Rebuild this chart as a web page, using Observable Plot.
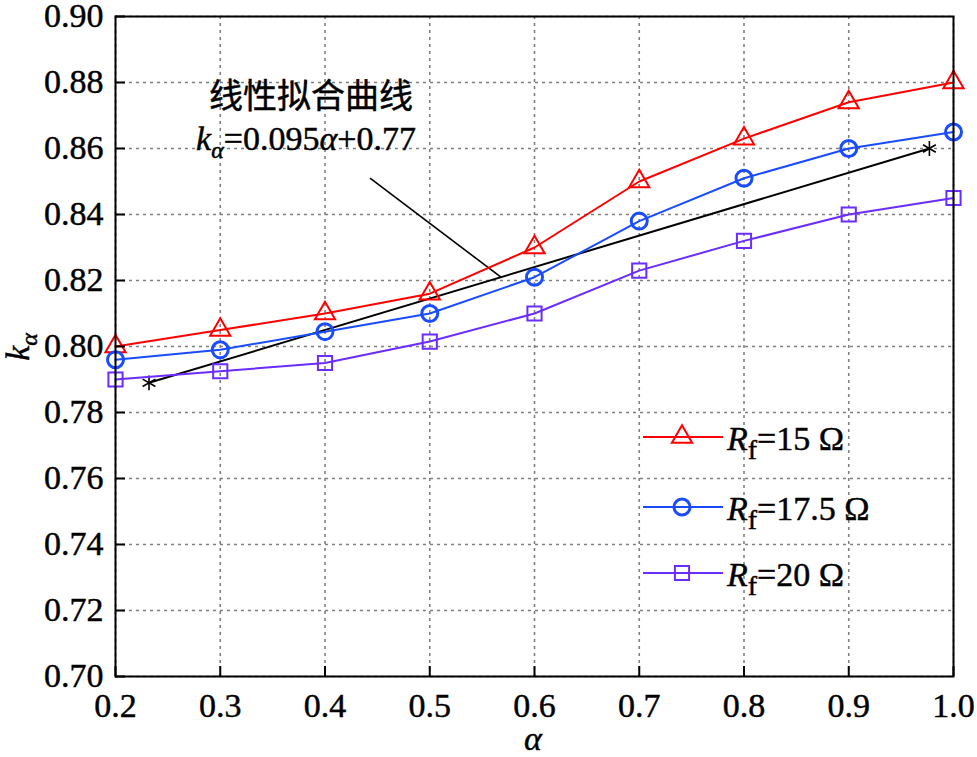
<!DOCTYPE html>
<html><head><meta charset="utf-8">
<script src="https://cdn.jsdelivr.net/npm/d3@7"></script>
<script src="https://cdn.jsdelivr.net/npm/@observablehq/plot@0.6"></script>
<style>
body{margin:0;background:#fff;}
#chart{width:977px;height:757px;}
#chart svg text{stroke:black;stroke-width:0.45px;}
</style></head><body><div id="chart"></div>
<script>
// ---- data ----
const alpha = [0.2, 0.3, 0.4, 0.5, 0.6, 0.7, 0.8, 0.9, 1.0];
const k15   = [0.800, 0.805, 0.810, 0.816, 0.830, 0.850, 0.863, 0.874, 0.880];
const k175  = [0.796, 0.799, 0.8045, 0.810, 0.821, 0.838, 0.851, 0.860, 0.865];
const k20   = [0.790, 0.7925, 0.795, 0.8015, 0.810, 0.823, 0.832, 0.840, 0.845];
const seriesR = ["15", "17.5", "20"];
const fitAlpha = [0.232, 0.977];
const fitK = [0.789, 0.860];
const leaderAlpha = [0.443, 0.568];
const leaderK = [0.851, 0.821];
const xTicks = [0.2, 0.3, 0.4, 0.5, 0.6, 0.7, 0.8, 0.9, 1.0];
const yTicks = [0.70, 0.72, 0.74, 0.76, 0.78, 0.80, 0.82, 0.84, 0.86, 0.88, 0.90];
const annoTitle = "线性拟合曲线";
const annoFormula = ["k", "α", "=0.095", "α", "+0.77"];

// ---- styles ----
const colors = ["#ff0000", "#1a4cff", "#6a2cff"];
const symbols = ["triangle", "circle", "square"];
const radii = [7.5, 8, 8];
const sw = [2, 3, 2];
const series = [k15, k175, k20];

const rows = series.map(ks => alpha.map((a, i) => ({a, k: ks[i]})));
const fitRows = fitAlpha.map((a, i) => ({a, k: fitK[i]}));
const leaderRow = [{x1: leaderAlpha[0], y1: leaderK[0], x2: leaderAlpha[1], y2: leaderK[1]}];

const gridStyle = {stroke: "#808080", strokeOpacity: 1, strokeDasharray: "3,4", strokeWidth: 1.6};
const marks = [
  Plot.gridX(xTicks, gridStyle),
  Plot.gridY(yTicks, gridStyle),
  Plot.link(leaderRow, {x1: "x1", y1: "y1", x2: "x2", y2: "y2", stroke: "black", strokeWidth: 1.6}),
  Plot.line(fitRows, {x: "a", y: "k", stroke: "black", strokeWidth: 2}),
  Plot.dot(fitRows, {x: "a", y: "k", symbol: "asterisk", r: 7, stroke: "black", strokeWidth: 1.6}),
];
rows.forEach((r, i) => {
  marks.push(Plot.line(r, {x: "a", y: "k", stroke: colors[i], strokeWidth: 2}));
  marks.push(Plot.dot(r, {x: "a", y: "k", symbol: symbols[i], r: radii[i], stroke: colors[i], strokeWidth: sw[i], fill: "none"}));
});
marks.push(
  Plot.axisX(xTicks, {tickSize: -10, tickPadding: 26, tickFormat: d3.format(".1f"), label: null, fontSize: 34, stroke: "black", strokeWidth: 2}),
  Plot.axisY(yTicks, {tickSize: -10, tickPadding: 22, tickFormat: d3.format(".2f"), label: null, fontSize: 34, stroke: "black", strokeWidth: 2}),
  Plot.frame({stroke: "black", strokeWidth: 2})
);

const chart = Plot.plot({
  width: 977, height: 757,
  marginLeft: 115, marginRight: 24, marginTop: 16, marginBottom: 81,
  x: {domain: [0.2, 1.0]},
  y: {domain: [0.70, 0.90]},
  style: {fontFamily: "'Liberation Serif', 'Times New Roman', serif", color: "black", background: "white"},
  marks
});
document.getElementById("chart").appendChild(chart);

const svg = d3.select(chart);
const serif = "'Liberation Serif', 'Times New Roman', serif";

// annotation
svg.append("text").attr("x", 311).attr("y", 108).attr("text-anchor", "middle")
  .attr("font-family", "'Noto Sans CJK SC', sans-serif").attr("font-size", 34).attr("fill", "black")
  .text(annoTitle);
const f = svg.append("text").attr("x", 306).attr("y", 150).attr("text-anchor", "middle")
  .attr("font-family", serif).attr("font-size", 34).attr("fill", "black");
f.append("tspan").attr("font-style", "italic").text(annoFormula[0]);
f.append("tspan").attr("font-style", "italic").attr("font-size", 24).attr("dy", 8).text(annoFormula[1]);
f.append("tspan").attr("dy", -8).text(annoFormula[2]);
f.append("tspan").attr("font-style", "italic").text(annoFormula[3]);
f.append("tspan").text(annoFormula[4]);

// axis labels
const yl = svg.append("text").attr("transform", "translate(29,347) rotate(-90)").attr("text-anchor", "middle")
  .attr("font-family", serif).attr("font-size", 34).attr("fill", "black");
yl.append("tspan").attr("font-style", "italic").text("k");
yl.append("tspan").attr("font-style", "italic").attr("font-size", 24).attr("dy", 8).text("α");
svg.append("text").attr("x", 533).attr("y", 750).attr("text-anchor", "middle")
  .attr("font-family", serif).attr("font-size", 34).attr("font-style", "italic").attr("fill", "black").text("α");

// legend
const legY = [437, 507, 573];
seriesR.forEach((name, i) => {
  const g = svg.append("g");
  g.append("line").attr("x1", 643).attr("x2", 723).attr("y1", legY[i]).attr("y2", legY[i])
    .attr("stroke", colors[i]).attr("stroke-width", 2);
  const symType = {triangle: d3.symbolTriangle, circle: d3.symbolCircle, square: d3.symbolSquare}[symbols[i]];
  g.append("path").attr("d", d3.symbol(symType, Math.PI * radii[i] * radii[i])())
    .attr("transform", `translate(682,${legY[i]})`).attr("fill", "none")
    .attr("stroke", colors[i]).attr("stroke-width", sw[i]);
  const t = g.append("text").attr("x", 727).attr("y", legY[i] + 13).attr("text-anchor", "start")
    .attr("font-family", serif).attr("font-size", 34).attr("fill", "black");
  t.append("tspan").attr("font-style", "italic").text("R");
  t.append("tspan").attr("font-size", 28).attr("dy", 9).text("f");
  t.append("tspan").attr("dy", -9).text("=" + name + " Ω");
});
</script></body></html>
